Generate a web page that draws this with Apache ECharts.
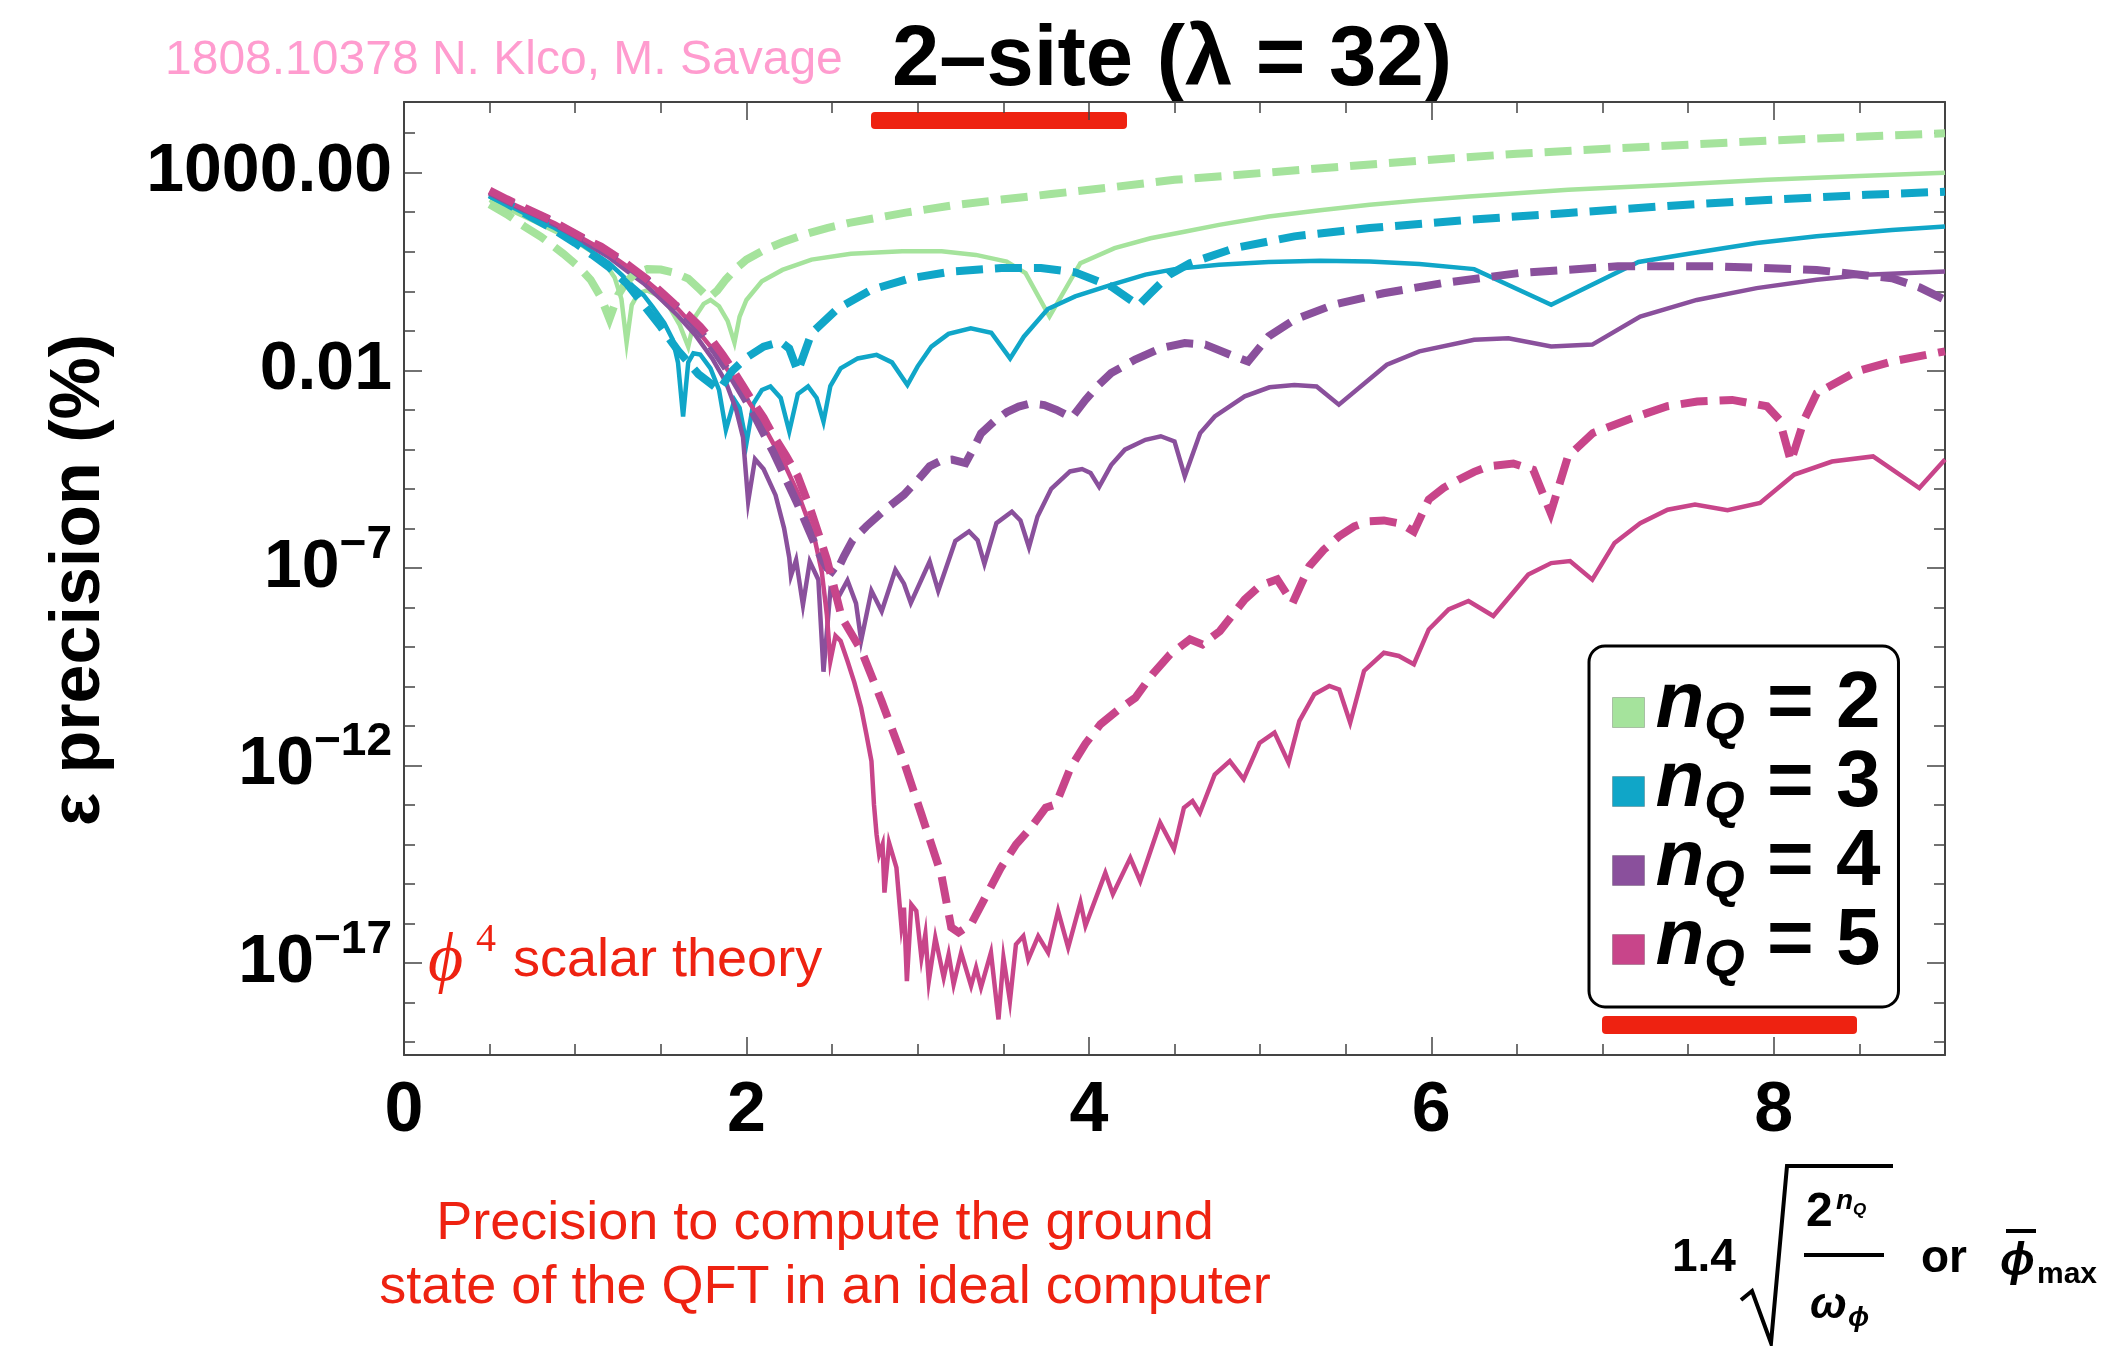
<!DOCTYPE html>
<html>
<head>
<meta charset="utf-8">
<title>2-site precision</title>
<script src="https://cdn.jsdelivr.net/npm/echarts@6/dist/echarts.min.js"></script>
<style>
html,body{margin:0;padding:0;background:#fff}
#main{width:2116px;height:1346px}
</style>
</head>
<body>
<div id="main"></div>
<script>
'use strict'
// all y values are log10 of the precision in %
var xMajorTicks = [0, 2, 4, 6, 8]
var xMinorTicks = [0.5, 1, 1.5, 2.5, 3, 3.5, 4.5, 5, 5.5, 6.5, 7, 7.5, 8.5]
var yMajorTicks = [-17, -12, -7, -2, 3]
var yMinorTicks = [-19, -18, -16, -15, -14, -13, -11, -10, -9, -8, -6, -5, -4, -3, -1, 0, 1, 2, 4]

var nq2Solid = [[0.5,2.31],[0.6,2.1],[0.76,1.77],[0.88,1.52],[0.99,1.3],[1.08,1.05],[1.16,0.8],[1.23,0.35],[1.27,-0.2],[1.3,-1.3],[1.33,-0.35],[1.37,-0.05],[1.42,0.02],[1.48,-0.1],[1.55,-0.4],[1.61,-0.85],[1.66,-1.4],[1.7,-0.65],[1.75,-0.32],[1.79,-0.22],[1.84,-0.38],[1.89,-0.75],[1.93,-1.3],[1.96,-0.64],[2.0,-0.22],[2.09,0.25],[2.21,0.54],[2.38,0.8],[2.61,0.95],[2.91,1.01],[3.14,1.01],[3.34,0.92],[3.52,0.75],[3.63,0.46],[3.77,-0.64],[3.95,0.71],[4.15,1.09],[4.36,1.34],[4.55,1.5],[4.76,1.68],[5.05,1.89],[5.35,2.05],[5.64,2.19],[5.93,2.3],[6.22,2.4],[6.8,2.57],[7.38,2.69],[7.96,2.82],[8.5,2.92],[9.0,3.0]]
var nq2Dashed = [[0.5,2.2],[0.6,1.95],[0.7,1.65],[0.8,1.38],[0.93,0.95],[1.02,0.62],[1.09,0.29],[1.15,-0.15],[1.2,-0.7],[1.25,-0.1],[1.3,0.25],[1.36,0.48],[1.42,0.56],[1.5,0.55],[1.58,0.47],[1.66,0.32],[1.72,0.08],[1.78,-0.17],[1.83,0.02],[1.88,0.3],[1.94,0.58],[2.0,0.8],[2.1,1.04],[2.21,1.24],[2.34,1.44],[2.47,1.6],[2.6,1.73],[2.75,1.85],[2.93,1.99],[3.2,2.17],[3.49,2.32],[3.78,2.46],[4.13,2.63],[4.5,2.82],[5.0,2.99],[5.5,3.16],[6.0,3.33],[6.5,3.48],[7.0,3.6],[7.5,3.71],[8.0,3.82],[8.5,3.91],[9.0,4.0]]
var nq3Solid = [[0.5,2.4],[0.6,2.2],[0.75,1.87],[0.88,1.6],[1.0,1.3],[1.1,1.0],[1.2,0.7],[1.27,0.42],[1.34,0.12],[1.4,-0.1],[1.45,-0.38],[1.52,-0.8],[1.57,-1.23],[1.6,-1.8],[1.63,-3.17],[1.66,-1.8],[1.69,-1.57],[1.73,-1.6],[1.79,-1.95],[1.84,-2.5],[1.88,-3.51],[1.93,-2.75],[1.96,-2.95],[2.0,-3.85],[2.04,-2.85],[2.09,-2.5],[2.14,-2.41],[2.2,-2.7],[2.25,-3.55],[2.3,-2.6],[2.36,-2.41],[2.41,-2.7],[2.45,-3.3],[2.49,-2.4],[2.55,-1.95],[2.65,-1.7],[2.76,-1.61],[2.85,-1.8],[2.94,-2.37],[3.0,-1.9],[3.08,-1.4],[3.18,-1.08],[3.31,-0.94],[3.43,-1.05],[3.54,-1.7],[3.62,-1.15],[3.76,-0.45],[3.92,-0.13],[4.13,0.16],[4.33,0.42],[4.5,0.56],[4.76,0.67],[5.05,0.74],[5.35,0.77],[5.64,0.75],[5.93,0.69],[6.25,0.56],[6.7,-0.34],[7.21,0.74],[7.52,0.96],[7.9,1.22],[8.25,1.39],[8.69,1.55],[9.0,1.64]]
var nq3Dashed = [[0.5,2.45],[0.6,2.22],[0.75,1.86],[0.88,1.55],[1.0,1.22],[1.1,0.92],[1.2,0.6],[1.3,0.2],[1.4,-0.35],[1.5,-0.9],[1.6,-1.5],[1.72,-2.1],[1.84,-2.5],[1.92,-2.0],[2.0,-1.68],[2.1,-1.4],[2.2,-1.28],[2.25,-1.45],[2.3,-2.03],[2.38,-1.06],[2.53,-0.45],[2.73,0.04],[2.96,0.33],[3.2,0.5],[3.49,0.59],[3.72,0.59],[3.92,0.48],[4.13,0.12],[4.29,-0.36],[4.36,-0.05],[4.47,0.42],[4.59,0.71],[4.85,1.09],[5.2,1.39],[5.64,1.6],[6.22,1.81],[6.8,1.98],[7.38,2.16],[7.96,2.31],[8.54,2.44],[9.0,2.52]]
var nq4Solid = [[0.5,2.45],[0.6,2.25],[0.75,1.95],[0.88,1.68],[1.0,1.38],[1.1,1.12],[1.2,0.85],[1.3,0.52],[1.4,0.2],[1.5,-0.2],[1.6,-0.62],[1.7,-1.1],[1.8,-1.7],[1.88,-2.3],[1.94,-3.0],[1.98,-3.7],[2.01,-5.32],[2.05,-4.25],[2.1,-4.5],[2.17,-5.16],[2.22,-6.0],[2.25,-6.74],[2.26,-7.2],[2.29,-6.8],[2.33,-7.94],[2.37,-6.84],[2.42,-7.3],[2.45,-9.63],[2.49,-7.58],[2.53,-7.8],[2.59,-7.32],[2.64,-7.9],[2.67,-8.84],[2.73,-7.58],[2.79,-8.1],[2.87,-7.05],[2.92,-7.4],[2.96,-7.89],[3.07,-6.84],[3.12,-7.58],[3.22,-6.32],[3.3,-6.08],[3.35,-6.3],[3.39,-6.9],[3.46,-5.87],[3.55,-5.58],[3.6,-5.8],[3.65,-6.48],[3.7,-5.7],[3.78,-5.0],[3.89,-4.56],[3.96,-4.5],[4.01,-4.6],[4.06,-4.95],[4.13,-4.4],[4.21,-4.01],[4.33,-3.76],[4.42,-3.67],[4.5,-3.8],[4.56,-4.68],[4.65,-3.59],[4.735,-3.17],[4.91,-2.66],[5.055,-2.43],[5.2,-2.37],[5.33,-2.41],[5.46,-2.87],[5.74,-1.86],[5.93,-1.52],[6.25,-1.23],[6.45,-1.19],[6.7,-1.4],[6.94,-1.35],[7.22,-0.64],[7.55,-0.22],[7.9,0.08],[8.25,0.29],[8.54,0.42],[9.0,0.5]]
var nq4Dashed = [[0.5,2.52],[0.6,2.3],[0.73,2.04],[0.85,1.8],[0.94,1.58],[1.05,1.32],[1.15,1.08],[1.25,0.8],[1.32,0.6],[1.42,0.28],[1.5,-0.05],[1.58,-0.35],[1.66,-0.68],[1.74,-1.08],[1.82,-1.55],[1.92,-2.2],[2.03,-3.0],[2.1,-3.6],[2.16,-4.1],[2.23,-4.75],[2.3,-5.4],[2.36,-6.0],[2.42,-6.6],[2.47,-7.0],[2.52,-7.16],[2.57,-6.7],[2.62,-6.3],[2.7,-5.95],[2.79,-5.6],[2.92,-5.15],[3.0,-4.78],[3.07,-4.43],[3.14,-4.28],[3.2,-4.26],[3.28,-4.35],[3.33,-3.95],[3.37,-3.6],[3.45,-3.28],[3.52,-3.06],[3.59,-2.92],[3.66,-2.84],[3.74,-2.88],[3.81,-3.0],[3.9,-3.2],[3.98,-2.75],[4.05,-2.4],[4.13,-2.07],[4.27,-1.73],[4.42,-1.44],[4.56,-1.31],[4.68,-1.35],[4.85,-1.65],[4.93,-1.78],[5.05,-1.14],[5.2,-0.72],[5.43,-0.34],[5.72,-0.05],[6.07,0.21],[6.51,0.46],[7.09,0.63],[7.67,0.63],[8.25,0.54],[8.69,0.33],[8.85,0.1],[9.0,-0.22]]
var nq5Solid = [[0.5,2.48],[0.6,2.28],[0.75,1.98],[0.88,1.72],[1.0,1.44],[1.1,1.2],[1.2,0.94],[1.3,0.64],[1.4,0.32],[1.5,-0.04],[1.6,-0.45],[1.7,-0.92],[1.8,-1.45],[1.9,-2.05],[2.0,-2.7],[2.08,-3.25],[2.15,-3.8],[2.23,-4.45],[2.3,-5.1],[2.36,-5.8],[2.4,-6.3],[2.44,-7.1],[2.47,-8.2],[2.49,-9.36],[2.52,-8.72],[2.55,-8.85],[2.59,-9.36],[2.63,-9.9],[2.67,-10.54],[2.7,-11.2],[2.73,-11.89],[2.745,-13.0],[2.76,-13.75],[2.775,-14.25],[2.795,-14.0],[2.806,-15.22],[2.833,-13.96],[2.876,-14.59],[2.905,-16.06],[2.92,-15.6],[2.937,-17.46],[2.963,-15.52],[2.992,-15.68],[3.022,-16.87],[3.045,-16.27],[3.065,-17.46],[3.103,-16.36],[3.152,-17.37],[3.181,-16.78],[3.21,-17.54],[3.254,-16.74],[3.312,-17.58],[3.341,-17.12],[3.37,-17.62],[3.428,-16.74],[3.472,-18.43],[3.501,-16.87],[3.539,-17.96],[3.574,-16.53],[3.617,-16.32],[3.646,-16.91],[3.704,-16.32],[3.762,-16.74],[3.82,-15.68],[3.879,-16.61],[3.951,-15.47],[3.98,-16.06],[4.096,-14.72],[4.14,-15.26],[4.242,-14.34],[4.3,-14.93],[4.416,-13.45],[4.497,-14.12],[4.555,-13.07],[4.605,-12.9],[4.648,-13.2],[4.735,-12.23],[4.823,-11.89],[4.904,-12.35],[4.997,-11.43],[5.084,-11.17],[5.166,-11.93],[5.229,-10.88],[5.317,-10.2],[5.404,-9.99],[5.462,-10.08],[5.526,-10.92],[5.607,-9.61],[5.723,-9.15],[5.81,-9.23],[5.898,-9.44],[5.985,-8.56],[6.101,-8.05],[6.217,-7.84],[6.362,-8.22],[6.566,-7.17],[6.7,-6.88],[6.81,-6.83],[6.94,-7.3],[7.07,-6.37],[7.22,-5.87],[7.38,-5.53],[7.54,-5.4],[7.73,-5.54],[7.92,-5.36],[8.12,-4.64],[8.34,-4.31],[8.58,-4.18],[8.85,-4.98],[9.0,-4.26]]
var nq5Dashed = [[0.5,2.55],[0.6,2.33],[0.73,2.06],[0.85,1.82],[0.94,1.6],[1.05,1.34],[1.15,1.13],[1.25,0.85],[1.32,0.63],[1.42,0.3],[1.51,-0.05],[1.58,-0.33],[1.66,-0.6],[1.73,-0.9],[1.8,-1.25],[1.86,-1.6],[1.92,-1.99],[1.98,-2.4],[2.03,-2.75],[2.1,-3.2],[2.16,-3.67],[2.23,-4.15],[2.3,-4.68],[2.38,-5.6],[2.47,-6.79],[2.557,-8.26],[2.673,-9.11],[2.789,-10.37],[2.905,-11.72],[3.022,-13.24],[3.138,-14.76],[3.196,-16.1],[3.239,-16.23],[3.312,-16.02],[3.4,-15.3],[3.486,-14.59],[3.575,-14.0],[3.661,-13.58],[3.748,-13.07],[3.806,-12.99],[3.893,-12.06],[3.98,-11.45],[4.067,-10.96],[4.17,-10.6],[4.271,-10.29],[4.37,-9.7],[4.474,-9.19],[4.59,-8.81],[4.663,-8.94],[4.765,-8.6],[4.91,-7.8],[5.0,-7.45],[5.1,-7.29],[5.19,-7.89],[5.287,-6.96],[5.37,-6.55],[5.462,-6.2],[5.55,-5.95],[5.636,-5.82],[5.723,-5.8],[5.82,-5.88],[5.898,-6.08],[5.985,-5.27],[6.07,-4.98],[6.159,-4.77],[6.25,-4.57],[6.333,-4.43],[6.479,-4.36],[6.595,-4.52],[6.697,-5.61],[6.798,-4.18],[6.943,-3.59],[7.147,-3.25],[7.379,-2.91],[7.553,-2.79],[7.757,-2.75],[7.96,-2.91],[8.033,-3.25],[8.1,-4.31],[8.178,-3.25],[8.251,-2.58],[8.483,-2.03],[8.687,-1.78],[9.0,-1.52]]

var qubitNames = ['nQ = 2', 'nQ = 3', 'nQ = 4', 'nQ = 5']
var qubitColors = ['#a5e39c', '#10a6c8', '#8a509c', '#c8458a']

var FONT = "'Liberation Sans', Arial, Helvetica, sans-serif"
var X_MIN = 0, X_MAX = 9
var Y_MIN = -19.33, Y_MAX = 4.79

function makeSeries(idx, data, dashed) {
    return {
        type: 'line',
        name: qubitNames[idx],
        data: data,
        symbol: 'none',
        showSymbol: false,
        animation: false,
        z: dashed ? 3 : 2,
        itemStyle: {color: qubitColors[idx]},
        lineStyle: {
            color: qubitColors[idx],
            width: dashed ? 8 : 4.5,
            type: dashed ? [27, 12] : 'solid',
            cap: 'butt',
            join: 'miter'
        }
    }
}

function yLabel(v) {
    if (v === 3) return '{b|1000.00}'
    if (v === -2) return '{b|0.01}'
    return '{b|10}{s|\u2212' + (-v) + '}'
}

function xAxisDef(pos, ticks, len, showLine, showLabel) {
    return {
        type: 'value', position: pos, min: X_MIN, max: X_MAX,
        splitLine: {show: false},
        axisLine: {show: showLine, onZero: false, lineStyle: {color: '#444', width: 2}},
        axisTick: {show: true, inside: true, length: len, customValues: ticks, lineStyle: {color: '#444', width: 1.5}},
        axisLabel: {show: showLabel, customValues: ticks, margin: 22, color: '#000',
            fontSize: 70, fontWeight: 'bold', fontFamily: FONT}
    }
}

function yAxisDef(pos, ticks, len, showLine, showLabel) {
    return {
        type: 'value', position: pos, min: Y_MIN, max: Y_MAX,
        splitLine: {show: false},
        axisLine: {show: showLine, onZero: false, lineStyle: {color: '#444', width: 2}},
        axisTick: {show: true, inside: true, length: len, customValues: ticks, lineStyle: {color: '#444', width: 1.5}},
        axisLabel: {
            show: showLabel, customValues: ticks, margin: 12, color: '#000',
            formatter: yLabel,
            rich: {
                b: {fontSize: 68, fontWeight: 'bold', fontFamily: FONT, lineHeight: 70, color: '#000'},
                s: {fontSize: 46, fontWeight: 'bold', fontFamily: FONT, lineHeight: 70, padding: [0, 0, 46, 0], color: '#000'}
            }
        }
    }
}

var legendData = qubitNames.map(function (n, i) {
    return {name: n, itemStyle: {color: qubitColors[i], borderColor: 'rgba(0,0,0,0.2)', borderWidth: 1}}
})

var myChart = echarts.init(document.getElementById('main'), null, {renderer: 'canvas'})

var option = {
    backgroundColor: '#fff',
    animation: false,
    grid: {left: 404, right: 171, top: 102, bottom: 291, containLabel: false},
    xAxis: [
        xAxisDef('bottom', xMajorTicks, 18, true, true),
        xAxisDef('bottom', xMinorTicks, 11, false, false),
        xAxisDef('top', xMajorTicks, 18, true, false),
        xAxisDef('top', xMinorTicks, 11, false, false)
    ],
    yAxis: [
        yAxisDef('left', yMajorTicks, 18, true, true),
        yAxisDef('left', yMinorTicks, 11, false, false),
        yAxisDef('right', yMajorTicks, 18, true, false),
        yAxisDef('right', yMinorTicks, 11, false, false)
    ],
    legend: {
        data: legendData,
        orient: 'vertical',
        left: 1589, top: 646,
        icon: 'rect',
        itemWidth: 32, itemHeight: 30,
        itemGap: -13,
        selectedMode: false,
        backgroundColor: '#fff',
        borderColor: '#000', borderWidth: 3, borderRadius: 16,
        padding: [13, 18, 19, 23],
        formatter: function (name) {
            return '{n|n}{q|Q}{e| = ' + name.split('= ')[1] + '}'
        },
        textStyle: {
            color: '#000',
            padding: [0, 0, 15, 6],
            rich: {
                n: {fontSize: 80, fontWeight: 'bold', fontStyle: 'italic', fontFamily: FONT, lineHeight: 40},
                q: {fontSize: 52, fontWeight: 'bold', fontStyle: 'italic', fontFamily: FONT, lineHeight: 40, padding: [40, 0, 0, 0]},
                e: {fontSize: 80, fontWeight: 'bold', fontFamily: FONT, lineHeight: 40}
            }
        }
    },
    graphic: [
        // header texts
        {type: 'text', x: 165, y: 61, style: {text: '1808.10378 N. Klco, M. Savage', fill: '#ff9ccf',
            fontSize: 48, fontFamily: FONT, align: 'left', verticalAlign: 'middle'}},
        {type: 'text', x: 1172, y: 62, style: {text: '2\u2013site (\u03bb = 32)', fill: '#000',
            fontSize: 85, fontWeight: 'bold', fontFamily: FONT, align: 'center', verticalAlign: 'middle'}},
        // y axis name
        {type: 'text', x: 80, y: 580, rotation: Math.PI / 2, style: {text: '\u03b5 precision (%)', fill: '#000',
            fontSize: 70, fontWeight: 'bold', fontFamily: FONT, align: 'center', verticalAlign: 'middle'}},
        // phi^4 label
        {type: 'text', x: 428, y: 962, style: {text: '\u03d5', fill: '#ee2211',
            fontSize: 68, fontStyle: 'italic', fontFamily: "'Liberation Serif', 'DejaVu Serif', serif", align: 'left', verticalAlign: 'middle'}},
        {type: 'text', x: 476, y: 940, style: {text: '4', fill: '#ee2211',
            fontSize: 40, fontFamily: "'Liberation Serif', 'DejaVu Serif', serif", align: 'left', verticalAlign: 'middle'}},
        {type: 'text', x: 513, y: 961, style: {text: 'scalar theory', fill: '#ee2211',
            fontSize: 54, fontFamily: FONT, align: 'left', verticalAlign: 'middle'}},
        // bottom caption
        {type: 'text', x: 825, y: 1224, style: {text: 'Precision to compute the ground', fill: '#ee2211',
            fontSize: 54, fontFamily: FONT, align: 'center', verticalAlign: 'middle'}},
        {type: 'text', x: 825, y: 1288, style: {text: 'state of the QFT in an ideal computer', fill: '#ee2211',
            fontSize: 54, fontFamily: FONT, align: 'center', verticalAlign: 'middle'}},
        // red scribbles
        {type: 'rect', shape: {x: 871, y: 112, width: 256, height: 17, r: 4}, style: {fill: '#ee2211'}},
        {type: 'rect', shape: {x: 1602, y: 1016, width: 255, height: 18, r: 4}, style: {fill: '#ee2211'}},
        // x axis name: 1.4 sqrt(2^nQ / w_phi) or phibar_max
        {type: 'text', x: 1672, y: 1258, style: {text: '1.4', fill: '#000', fontSize: 46, fontWeight: 'bold', fontFamily: FONT, align: 'left', verticalAlign: 'middle'}},
        {type: 'polyline', shape: {points: [[1741, 1300], [1752, 1291], [1771, 1343], [1787, 1166], [1893, 1166]]},
            style: {stroke: '#000', lineWidth: 4, fill: null}},
        {type: 'text', x: 1806, y: 1213, style: {text: '2', fill: '#000', fontSize: 48, fontWeight: 'bold', fontFamily: FONT, align: 'left', verticalAlign: 'middle'}},
        {type: 'text', x: 1836, y: 1201, style: {text: 'n', fill: '#000', fontSize: 28, fontWeight: 'bold', fontStyle: 'italic', fontFamily: FONT, align: 'left', verticalAlign: 'middle'}},
        {type: 'text', x: 1853, y: 1210, style: {text: 'Q', fill: '#000', fontSize: 17, fontWeight: 'bold', fontStyle: 'italic', fontFamily: FONT, align: 'left', verticalAlign: 'middle'}},
        {type: 'line', shape: {x1: 1804, y1: 1255, x2: 1884, y2: 1255}, style: {stroke: '#000', lineWidth: 4}},
        {type: 'text', x: 1810, y: 1306, style: {text: '\u03c9', fill: '#000', fontSize: 44, fontWeight: 'bold', fontStyle: 'italic', fontFamily: FONT, align: 'left', verticalAlign: 'middle'}},
        {type: 'text', x: 1848, y: 1318, style: {text: '\u03d5', fill: '#000', fontSize: 28, fontWeight: 'bold', fontStyle: 'italic', fontFamily: FONT, align: 'left', verticalAlign: 'middle'}},
        {type: 'text', x: 1921, y: 1259, style: {text: 'or', fill: '#000', fontSize: 46, fontWeight: 'bold', fontFamily: FONT, align: 'left', verticalAlign: 'middle'}},
        {type: 'text', x: 2000, y: 1262, style: {text: '\u03d5', fill: '#000', fontSize: 46, fontWeight: 'bold', fontStyle: 'italic', fontFamily: FONT, align: 'left', verticalAlign: 'middle'}},
        {type: 'line', shape: {x1: 2006, y1: 1231, x2: 2036, y2: 1231}, style: {stroke: '#000', lineWidth: 4}},
        {type: 'text', x: 2037, y: 1275, style: {text: 'max', fill: '#000', fontSize: 30, fontWeight: 'bold', fontFamily: FONT, align: 'left', verticalAlign: 'middle'}}
    ],
    series: [
        makeSeries(0, nq2Solid, false),
        makeSeries(1, nq3Solid, false),
        makeSeries(2, nq4Solid, false),
        makeSeries(3, nq5Solid, false),
        makeSeries(0, nq2Dashed, true),
        makeSeries(1, nq3Dashed, true),
        makeSeries(2, nq4Dashed, true),
        makeSeries(3, nq5Dashed, true)
    ]
}

myChart.setOption(option)
</script>
</body>
</html>
